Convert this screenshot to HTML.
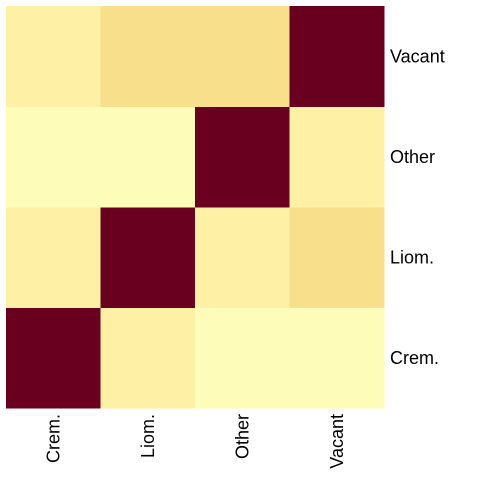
<!DOCTYPE html>
<html><head><meta charset="utf-8"><style>
body{margin:0;background:#fff;}
svg{display:block;}
text{font-family:"Liberation Sans",sans-serif;font-size:18px;fill:#000;}
</style></head><body>
<svg id="chart" width="480" height="480"></svg>
<script>
const categories = ["Crem.", "Liom.", "Other", "Vacant"];
// values[row][col], rows indexed bottom-to-top by categories
const rowCrem   = [1.0, 0.12, 0.02, 0.02];
const rowLiom   = [0.12, 1.0, 0.12, 0.25];
const rowOther  = [0.02, 0.02, 1.0, 0.12];
const rowVacant = [0.12, 0.25, 0.25, 1.0];
const values = [rowCrem, rowLiom, rowOther, rowVacant];

const x0 = 6, x1 = 384, y0 = 6, y1 = 408;
const n = categories.length;
const cw = (x1 - x0) / n, ch = (y1 - y0) / n;
function xPos(i){ return x0 + i * cw; }
function yPos(i){ return y1 - (i + 1) * ch; }
function color(v){
  if (v >= 0.9) return "#6a001f";
  if (v >= 0.2) return "#f8df8b";
  if (v >= 0.07) return "#fef1a6";
  return "#fdfdb9";
}
const svg = document.getElementById("chart");
const NS = "http://www.w3.org/2000/svg";
for (let r = 0; r < n; r++) {
  for (let c = 0; c < n; c++) {
    const rect = document.createElementNS(NS, "rect");
    rect.setAttribute("x", xPos(c));
    rect.setAttribute("y", yPos(r));
    rect.setAttribute("width", cw + 0.5);
    rect.setAttribute("height", ch + 0.5);
    rect.setAttribute("fill", color(values[r][c]));
    
    
    svg.appendChild(rect);
  }
}
for (let i = 0; i < n; i++) {
  const t = document.createElementNS(NS, "text");
  t.setAttribute("x", x1 + 6);
  t.setAttribute("y", yPos(i) + ch / 2 + 6);
  t.textContent = categories[i];
  
  
  svg.appendChild(t);
  const b = document.createElementNS(NS, "text");
  const cx = xPos(i) + cw / 2 + 6, cy = y1 + 6;
  b.setAttribute("x", cx);
  b.setAttribute("y", cy);
  b.setAttribute("text-anchor", "end");
  b.setAttribute("transform", "rotate(-90 " + cx + " " + cy + ")");
  b.textContent = categories[i];
  
  
  svg.appendChild(b);
}
</script>
</body></html>
